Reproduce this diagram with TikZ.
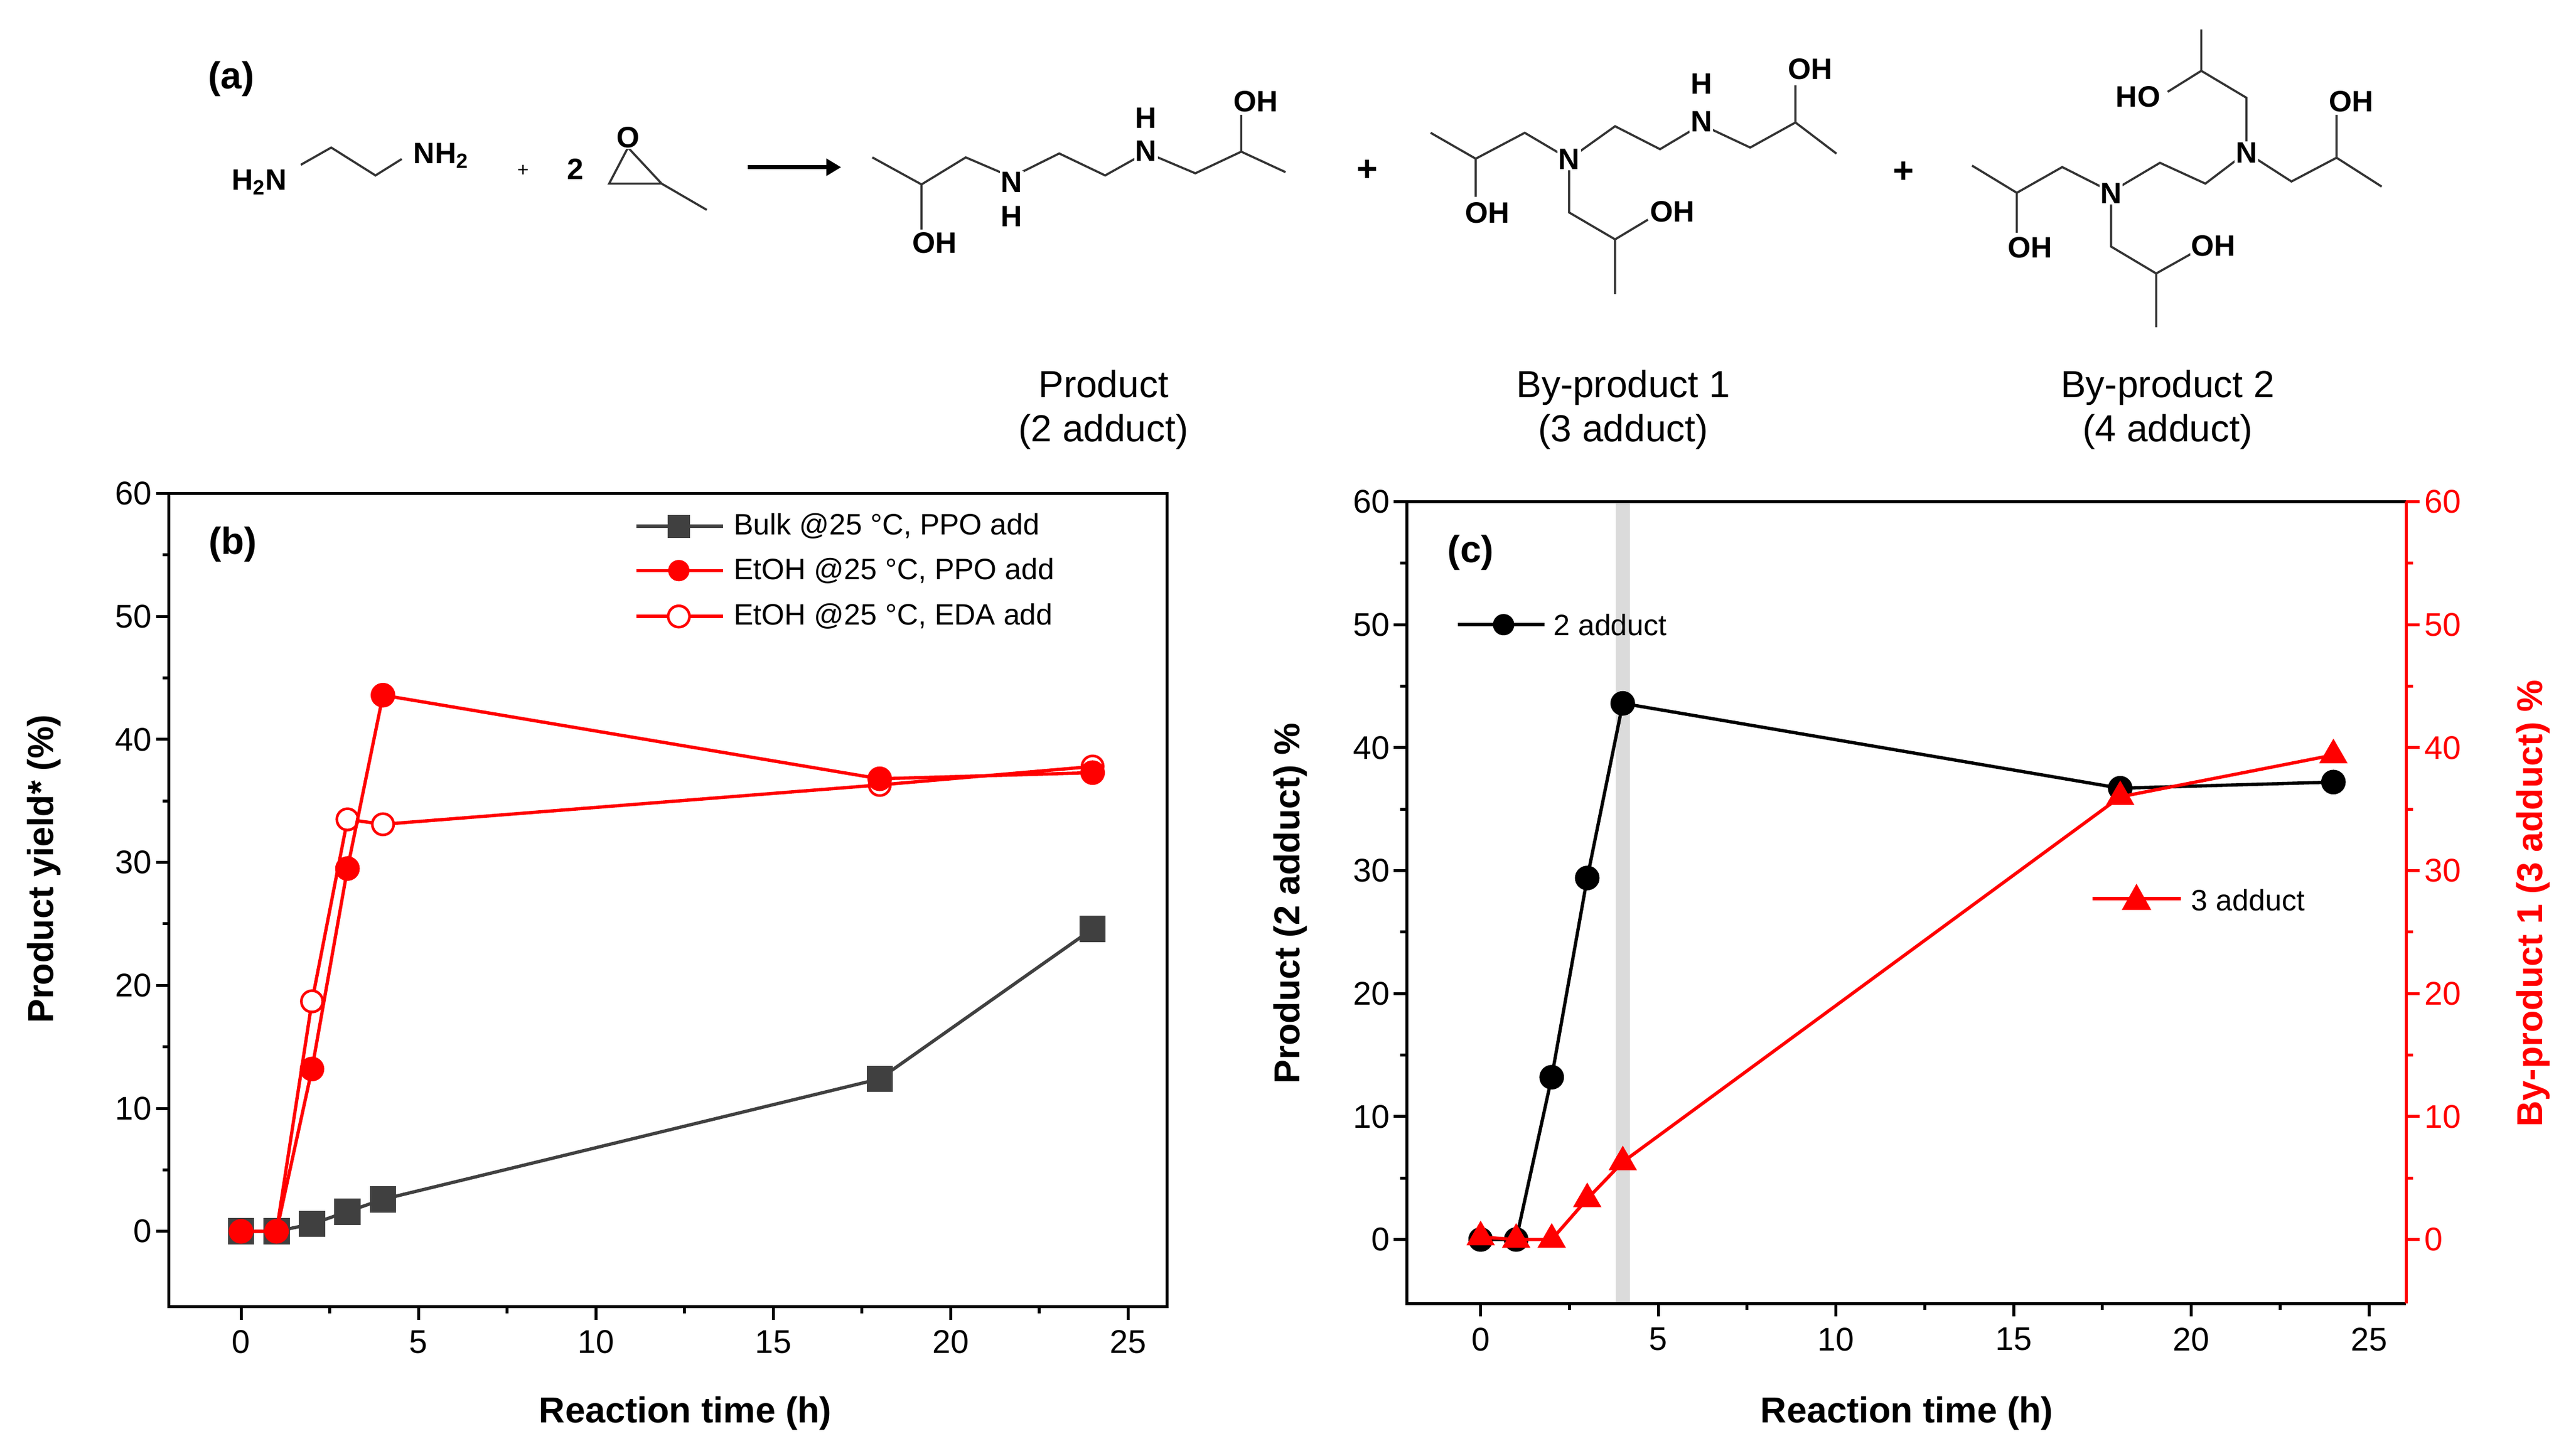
\documentclass[tikz,border=0pt]{standalone}
\usepackage{fontspec}
\setmainfont{Liberation Sans}
\usetikzlibrary{plotmarks,arrows.meta}
\definecolor{rd}{RGB}{255,0,0}
\definecolor{gy}{RGB}{64,64,64}
\begin{document}
\begin{tikzpicture}[x=1pt,y=-1pt,
 bond/.style={line width=1.3pt,draw=black!80},
 atm/.style={fill=white,inner sep=0.6pt,font=\fontsize{18}{18}\selectfont\bfseries},
 captxt/.style={font=\fontsize{23}{27}\selectfont,align=center},
 tl/.style={font=\fontsize{20}{20}\selectfont},
 ttl/.style={font=\fontsize{22}{22}\selectfont\bfseries},
 lg/.style={font=\fontsize{18}{18}\selectfont,anchor=west},
 axl/.style={line width=1.8pt}]
\useasboundingbox (0,0) rectangle (1568,888);
% ---------- panel a ----------
\node[font=\fontsize{23}{23}\selectfont\bfseries] (la) at (141,48) {(a)};
\draw[bond] (183.5,100.5)--(202,90)--(229,107)--(245,97);
\node[atm] (n1) at (158,111) {H\textsubscript{2}N};
\node[atm] (n2) at (269,95) {NH\textsubscript{2}};
\node[font=\fontsize{12}{12}\selectfont] (p0) at (319,104) {+};
\node[atm] (two) at (351,103) {2};
\draw[bond] (383,90)--(371.5,112)--(403.5,112)--cycle (403.5,112)--(431,128);
\node[atm] (o1) at (383,84) {O};
\node (ar1) at (456,102) {}; \node (ar2) at (513,102) {};
\draw[line width=2.6pt,-{Triangle[length=9pt,width=10pt]}] (ar1.center)--(ar2.center);
% product
\draw[bond] (532,96)--(562,112.5)--(589,96)--(617,108)--(646,93.6)--(674,107)--(699,93)--(729,105.7)--(757,92.5)--(784,105)
 (757,92.5)--(757,70) (562,112.5)--(562,140);
\node[atm] (pn1) at (617,111) {N}; \node[atm] (ph1) at (617,132) {H};
\node[atm] (pn2) at (699,92) {N}; \node[atm] (ph2) at (699,72) {H};
\node[atm] (po1) at (766,62) {OH}; \node[atm] (po2) at (570,148) {OH};
\node[font=\fontsize{22}{22}\selectfont\bfseries] (pl1) at (834,104) {+};
% by-product 1
\draw[bond] (872.5,81)--(900,96.8)--(929.9,81)--(957,97)--(985,77)--(1012.4,91)--(1037.6,76)--(1067.4,90)--(1095,74.7)--(1120,93.7)
 (1095,74.7)--(1095,52) (900,96.8)--(900,120) (957,97)--(957,129.6)--(985,146)--(1005,134) (985,146)--(985,179.4);
\node[atm] (bn1) at (957,97) {N};
\node[atm] (bn2) at (1037.6,74) {N}; \node[atm] (bh2) at (1037.6,51) {H};
\node[atm] (bo1) at (1104,42) {OH}; \node[atm] (bo2) at (907,130) {OH}; \node[atm] (bo3) at (1020,129) {OH};
\node[font=\fontsize{22}{22}\selectfont\bfseries] (pl2) at (1161,105) {+};
% by-product 2
\draw[bond] (1202.7,101)--(1230,117.6)--(1257.7,101.9)--(1287.5,117)--(1317.3,99.3)--(1345,112)--(1370,93)--(1397.5,110.7)--(1425,96.2)--(1452.5,113.8)
 (1370,93)--(1370,59.6)--(1342.5,43.2)--(1342.5,18) (1342.5,43.2)--(1322,56)
 (1425,96.2)--(1425,70) (1230,117.6)--(1230,142) (1287.5,117)--(1287.5,150.4)--(1315,166.8)--(1336,155) (1315,166.8)--(1315,199.6);
\node[atm] (cn1) at (1287.5,118) {N}; \node[atm] (cn2) at (1370,93) {N};
\node[atm] (co1) at (1304,59) {HO}; \node[atm] (co2) at (1434,62) {OH};
\node[atm] (co3) at (1238,151) {OH}; \node[atm] (co4) at (1350,150) {OH};
\node[captxt] (c1) at (673,250) {Product\\(2 adduct)};
\node[captxt] (c2) at (990,250) {By-product 1\\(3 adduct)};
\node[captxt] (c3) at (1322,250) {By-product 2\\(4 adduct)};
% ---------- panel b ----------
\begin{scope}[shift={(147,751)},x=21.64pt,y=7.5pt]
 \foreach \v in {0,10,...,60}{\draw[axl] (-2.03,\v)--++(-8pt,0); \node[tl,anchor=east] at (-2.35,\v) {\v};}
 \foreach \v in {5,15,...,55}{\draw[axl] (-2.03,\v)--++(-4pt,0);}
 \foreach \h in {0,5,...,25}{\draw[axl] (\h,-6.13)--++(0,-8pt); \node[tl,anchor=north] at (\h,-7.6) {\h};}
 \foreach \h in {2.5,7.5,...,22.5}{\draw[axl] (\h,-6.13)--++(0,-4pt);}
 \draw[axl] (-2.03,-6.13) rectangle (26.1,60);
 \draw[gy,line width=2pt] plot[mark=square*,mark size=7pt] coordinates {(0,0)(1,0)(2,0.6)(3,1.6)(4,2.6)(18,12.4)(24,24.6)};
 \draw[rd,line width=2pt] plot[mark=*,mark size=6.5pt,mark options={fill=white,line width=1.6pt}] coordinates {(0,0)(1,0)(2,18.7)(3,33.5)(4,33.1)(18,36.3)(24,37.8)};
 \draw[rd,line width=2pt] plot[mark=*,mark size=6.5pt] coordinates {(0,0)(1,0)(2,13.2)(3,29.5)(4,43.6)(18,36.8)(24,37.3)};
\end{scope}
\node[font=\fontsize{23}{23}\selectfont\bfseries] (lb) at (142,332) {(b)};
\draw[gy,line width=2pt] (388,321)--(441,321); \fill[gy] (407,314) rectangle (421,328);
\node[lg] (lb1) at (444,321) {Bulk @25 °C, PPO add};
\draw[rd,line width=2pt] (388,348)--(441,348); \fill[rd] (414,348) circle (6.5);
\node[lg] (lb2) at (444,348) {EtOH @25 °C, PPO add};
\draw[rd,line width=2pt] (388,376)--(441,376); \draw[rd,line width=1.6pt,fill=white] (414,376) circle (6.5);
\node[lg] (lb3) at (444,376) {EtOH @25 °C, EDA add};
\node[ttl,rotate=90] (yb) at (27,530) {Product yield* (\%)};
\node[ttl] (xb) at (418,862) {Reaction time (h)};
% ---------- panel c ----------
\begin{scope}[shift={(903,756)},x=21.67pt,y=7.5pt]
 \fill[black!14] (3.8,-5.2) rectangle (4.2,60);
 \foreach \v in {0,10,...,60}{\draw[axl] (-2.08,\v)--++(-8pt,0); \node[tl,anchor=east] at (-2.4,\v) {\v};
   \draw[axl,rd] (26.05,\v)--++(8pt,0); \node[tl,anchor=west,rd] at (26.4,\v) {\v};}
 \foreach \v in {5,15,...,55}{\draw[axl] (-2.08,\v)--++(-4pt,0); \draw[axl,rd] (26.05,\v)--++(4pt,0);}
 \foreach \h in {0,5,...,25}{\draw[axl] (\h,-5.2)--++(0,-8pt); \node[tl,anchor=north] at (\h,-6.7) {\h};}
 \foreach \h in {2.5,7.5,...,22.5}{\draw[axl] (\h,-5.2)--++(0,-4pt);}
 \draw[axl] (26.05,-5.2)--(-2.08,-5.2)--(-2.08,60)--(26.05,60);
 \draw[axl,rd] (26.05,-5.2)--(26.05,60);
 \draw[black,line width=2pt] plot[mark=*,mark size=6.5pt] coordinates {(0,0)(1,0)(2,13.2)(3,29.4)(4,43.6)(18,36.7)(24,37.2)};
 \draw[rd,line width=2pt] plot[mark=triangle*,mark size=8pt] coordinates {(0,0.2)(1,0)(2,0)(3,3.3)(4,6.3)(18,36)(24,39.4)};
\end{scope}
\node[font=\fontsize{23}{23}\selectfont\bfseries] (lc) at (897,337) {(c)};
\draw[line width=2pt] (889,381)--(942,381); \fill (917,381) circle (6.5);
\node[lg] (lc1) at (944,381) {2 adduct};
\draw[rd,line width=2pt] (1276,548)--(1330,548); \fill[rd] (1303,539) -- (1312,555) -- (1294,555) -- cycle;
\node[lg] (lc2) at (1333,549) {3 adduct};
\node[ttl,rotate=90] (yc) at (787,551) {Product (2 adduct) \%};
\node[ttl,rotate=90,rd] (yc2) at (1545,551) {By-product 1 (3 adduct) \%};
\node[ttl] (xc) at (1163,862) {Reaction time (h)};
\end{tikzpicture}
\end{document}
